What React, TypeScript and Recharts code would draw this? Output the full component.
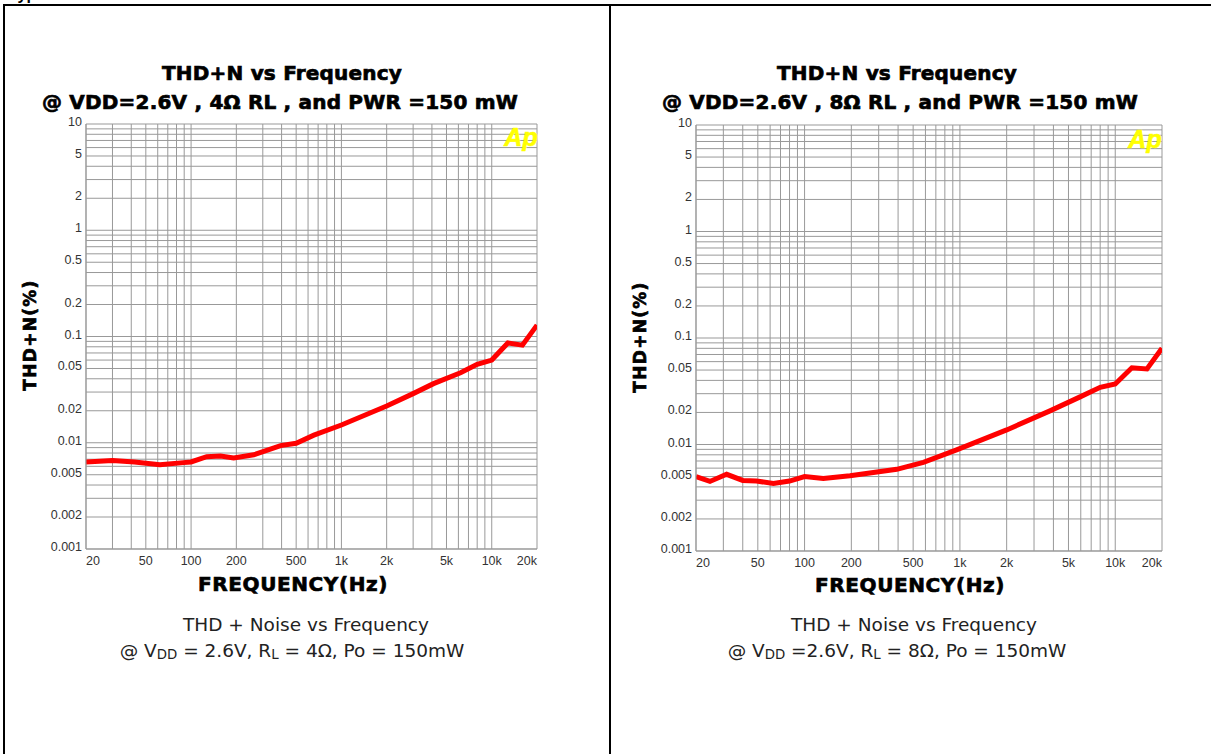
import React from "react";
import { LineChart, Line, XAxis, YAxis, CartesianGrid } from "recharts";

// 4 ohm load
const FREQ_4 = [20, 30, 42, 62, 89, 100, 127, 157, 192, 261, 394, 500, 656, 1000, 2000, 3000, 4100, 6200, 8000, 10000, 12800, 16000, 20000];
const THD_4 = [0.0066, 0.0068, 0.0066, 0.0062, 0.0065, 0.0066, 0.0074, 0.0075, 0.0072, 0.0077, 0.0094, 0.0099, 0.0118, 0.0147, 0.0222, 0.029, 0.036, 0.0456, 0.0547, 0.06, 0.087, 0.083, 0.128];

// 8 ohm load
const FREQ_8 = [20, 24.6, 31.5, 40, 49, 63, 80, 100, 132, 196, 392, 582, 952, 2000, 3800, 5940, 8000, 10000, 12800, 16000, 20000];
const THD_8 = [0.005, 0.0045, 0.00525, 0.0046, 0.00454, 0.0043, 0.00454, 0.005, 0.0048, 0.0051, 0.00585, 0.0068, 0.0089, 0.0137, 0.0207, 0.028, 0.0344, 0.037, 0.0526, 0.0512, 0.08];

const X_GRID = [20, 30, 40, 50, 60, 70, 80, 90, 100, 200, 300, 400, 500, 600, 700, 800, 900, 1000, 2000, 3000, 4000, 5000, 6000, 7000, 8000, 9000, 10000, 20000];
const X_LABELS = [20, 50, 100, 200, 500, 1000, 2000, 5000, 10000, 20000];

const Y_GRID = [
  0.001, 0.002, 0.003, 0.004, 0.005, 0.006, 0.007, 0.008, 0.009,
  0.01, 0.02, 0.03, 0.04, 0.05, 0.06, 0.07, 0.08, 0.09,
  0.1, 0.2, 0.3, 0.4, 0.5, 0.6, 0.7, 0.8, 0.9,
  1, 2, 3, 4, 5, 6, 7, 8, 9, 10,
];
const Y_LABELS = [10, 5, 2, 1, 0.5, 0.2, 0.1, 0.05, 0.02, 0.01, 0.005, 0.002, 0.001];

const HEAVY = "'DejaVu Sans', sans-serif";
const TICK_FONT = "'Liberation Sans', Arial, sans-serif";

const XTick = (props: any) => {
  const { x, y, payload } = props;
  const v = payload.value;
  if (!X_LABELS.includes(v)) return <g />;
  let anchor = "middle";
  if (v === 20) anchor = "start";
  if (v === 20000) anchor = "end";
  return (
    <text x={x} y={y + 16} textAnchor={anchor} fontSize={12.5} fontFamily={TICK_FONT} fill="#333">
      {v >= 1000 ? `${v / 1000}k` : v}
    </text>
  );
};

const YTick = (props: any) => {
  const { x, y, payload } = props;
  const v = payload.value;
  if (!Y_LABELS.includes(v)) return <g />;
  return (
    <text x={x} y={y + 2} textAnchor="end" fontSize={12.5} fontFamily={TICK_FONT} fill="#333">
      {v}
    </text>
  );
};

const At = ({ x, y, rotate, style, children }: any) => (
  <div
    style={{
      position: "absolute",
      left: x,
      top: y,
      transform: `translate(-50%, -50%)${rotate ? " rotate(-90deg)" : ""}`,
      whiteSpace: "nowrap",
      lineHeight: 1,
      ...style,
    }}
  >
    {children}
  </div>
);

const titleStyle = {
  fontFamily: HEAVY,
  fontWeight: 700,
  fontSize: 20,
  color: "#000",
  letterSpacing: 0.2,
  WebkitTextStroke: "0.7px #000",
};
const captionStyle = { fontFamily: HEAVY, fontSize: 18.5, color: "#222" };
const subStyle = { fontSize: "0.72em", position: "relative" as const, top: "0.15em" };
const logoStyle = {
  fontFamily: TICK_FONT,
  fontWeight: 700,
  fontStyle: "italic",
  fontSize: 25,
  color: "#ffff00",
  WebkitTextStroke: "0.6px #ffff00",
};

function Plot({ left, freq, thd, margin }: any) {
  const data = freq.map((f: number, i: number) => ({ f, thd: thd[i] }));
  return (
    <div style={{ position: "absolute", left, top: 0 }}>
      <LineChart width={600} height={600} data={data} margin={margin}>
        <CartesianGrid stroke="#999" strokeWidth={1} />
        <XAxis
          dataKey="f"
          type="number"
          scale="log"
          domain={[20, 20000]}
          ticks={X_GRID}
          interval={0}
          allowDataOverflow
          tickLine={false}
          tickSize={0}
          tickMargin={0}
          height={30}
          axisLine={{ stroke: "#999" }}
          tick={<XTick />}
        />
        <YAxis
          type="number"
          scale="log"
          domain={[0.001, 10]}
          ticks={Y_GRID}
          interval={0}
          allowDataOverflow
          tickLine={false}
          tickSize={0}
          tickMargin={4}
          width={60}
          axisLine={{ stroke: "#999" }}
          tick={<YTick />}
        />
        <Line dataKey="thd" type="linear" stroke="#ff0000" strokeWidth={5} dot={false} isAnimationActive={false} />
      </LineChart>
    </div>
  );
}

export default function App() {
  return (
    <div
      style={{
        position: "absolute",
        left: 0,
        top: 0,
        width: 1211,
        height: 754,
        background: "#fff",
        overflow: "hidden",
      }}
    >
      <div style={{ position: "absolute", left: 9, top: -14, fontFamily: TICK_FONT, fontWeight: 700, fontSize: 16 }}>
        Typical Performance Characteristics
      </div>
      {/* table borders */}
      <div style={{ position: "absolute", left: 3, top: 4, width: 1208, height: 2, background: "#000" }} />
      <div style={{ position: "absolute", left: 3, top: 4, width: 2, height: 750, background: "#000" }} />
      <div style={{ position: "absolute", left: 609, top: 4, width: 2, height: 750, background: "#000" }} />

      <Plot left={0} freq={FREQ_4} thd={THD_4} margin={{ top: 124, right: 63, bottom: 21, left: 26 }} />
      <Plot left={610} freq={FREQ_8} thd={THD_8} margin={{ top: 125, right: 48, bottom: 19, left: 26 }} />

      {/* left panel texts */}
      <At x={282} y={73} style={titleStyle}>THD+N vs Frequency</At>
      <At x={280} y={102} style={titleStyle}>@ VDD=2.6V , 4Ω RL , and PWR =150 mW</At>
      <At x={30} y={335} rotate style={{ ...titleStyle, fontSize: 17, letterSpacing: 1.3 }}>THD+N(%)</At>
      <At x={293} y={584} style={{ ...titleStyle, letterSpacing: 0.6 }}>FREQUENCY(Hz)</At>
      <At x={521} y={137} style={logoStyle}>Ap</At>
      <At x={306} y={625} style={captionStyle}>THD + Noise vs Frequency</At>
      <At x={292} y={651} style={captionStyle}>
        @ V<span style={subStyle}>DD</span> = 2.6V, R<span style={subStyle}>L</span> = 4Ω, Po = 150mW
      </At>

      {/* right panel texts */}
      <At x={897} y={73} style={titleStyle}>THD+N vs Frequency</At>
      <At x={900} y={102} style={titleStyle}>@ VDD=2.6V , 8Ω RL , and PWR =150 mW</At>
      <At x={640} y={337} rotate style={{ ...titleStyle, fontSize: 17, letterSpacing: 1.3 }}>THD+N(%)</At>
      <At x={910} y={585} style={{ ...titleStyle, letterSpacing: 0.6 }}>FREQUENCY(Hz)</At>
      <At x={1145} y={139} style={logoStyle}>Ap</At>
      <At x={914} y={625} style={captionStyle}>THD + Noise vs Frequency</At>
      <At x={897} y={651} style={captionStyle}>
        @ V<span style={subStyle}>DD</span> =2.6V, R<span style={subStyle}>L</span> = 8Ω, Po = 150mW
      </At>
    </div>
  );
}
